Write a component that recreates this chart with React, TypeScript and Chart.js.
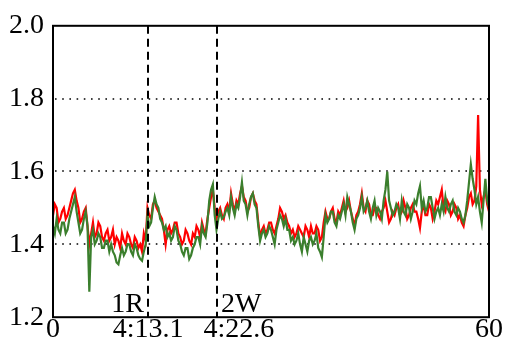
import React, { useEffect, useRef } from "react";
import { Chart, registerables } from "chart.js";

Chart.register(...registerables);

const STEP = 0.25;

const RED = [
  1.48, 1.51, 1.5, 1.46, 1.47, 1.49, 1.5, 1.47, 1.48, 1.5, 1.52, 1.54, 1.55, 1.52, 1.5, 1.46, 1.47, 1.49, 1.5, 1.45,
  1.4, 1.43, 1.46, 1.42, 1.43, 1.46, 1.45, 1.42, 1.41, 1.43, 1.44, 1.41, 1.42, 1.44, 1.4, 1.42, 1.41, 1.39, 1.43, 1.41,
  1.4, 1.43, 1.42, 1.4, 1.39, 1.42, 1.41, 1.39, 1.4, 1.38, 1.43, 1.41, 1.5, 1.48, 1.47, 1.51, 1.52, 1.5, 1.49, 1.48,
  1.47, 1.44, 1.4, 1.44, 1.45, 1.43, 1.44, 1.46, 1.46, 1.43, 1.42, 1.4, 1.41, 1.44, 1.43, 1.41, 1.4, 1.43, 1.42, 1.45,
  1.44, 1.42, 1.46, 1.44, 1.43, 1.47, 1.5, 1.53, 1.55, 1.5, 1.47, 1.49, 1.5, 1.48, 1.47, 1.5, 1.51, 1.49, 1.54, 1.51,
  1.49, 1.52, 1.51, 1.54, 1.56, 1.53, 1.52, 1.49, 1.5, 1.53, 1.54, 1.52, 1.51, 1.46, 1.42, 1.44, 1.45, 1.43, 1.44, 1.46,
  1.46, 1.44, 1.43, 1.45, 1.47, 1.5, 1.49, 1.47, 1.48, 1.46, 1.45, 1.43, 1.44, 1.42, 1.43, 1.45, 1.44, 1.43, 1.42, 1.45,
  1.44, 1.42, 1.45, 1.43, 1.43, 1.45, 1.44, 1.41, 1.42, 1.46, 1.49, 1.47, 1.47, 1.49, 1.5, 1.47, 1.46, 1.49, 1.48, 1.5,
  1.52, 1.49, 1.5, 1.52, 1.49, 1.47, 1.45, 1.48, 1.49, 1.51, 1.54, 1.5, 1.49, 1.52, 1.51, 1.48, 1.48, 1.5, 1.5, 1.48,
  1.47, 1.49, 1.5, 1.52, 1.49, 1.46, 1.47, 1.49, 1.48, 1.5, 1.51, 1.48, 1.49, 1.52, 1.5, 1.47, 1.48, 1.5, 1.51, 1.49,
  1.49, 1.47, 1.445, 1.49, 1.51, 1.48, 1.48, 1.51, 1.5, 1.47, 1.49, 1.52, 1.51, 1.53, 1.55, 1.5, 1.49, 1.52, 1.51, 1.48,
  1.49, 1.51, 1.5, 1.47, 1.48, 1.46, 1.45, 1.48, 1.5, 1.53, 1.54, 1.51, 1.52, 1.56, 1.755, 1.55, 1.51, 1.53, 1.55, 1.51,
  1.49,
];

const GREEN = [
  1.45, 1.43, 1.47, 1.44, 1.43, 1.46, 1.46, 1.43, 1.44, 1.47, 1.49, 1.51, 1.53, 1.49, 1.46, 1.43, 1.44, 1.47, 1.49, 1.45,
  1.27, 1.42, 1.44, 1.4, 1.41, 1.43, 1.42, 1.39, 1.39, 1.41, 1.41, 1.38, 1.4, 1.38, 1.37, 1.35, 1.345, 1.37, 1.39, 1.37,
  1.38, 1.4, 1.4, 1.38, 1.37, 1.4, 1.39, 1.37, 1.36, 1.355, 1.38, 1.4, 1.48, 1.45, 1.46, 1.5, 1.53, 1.51, 1.5, 1.47,
  1.46, 1.44, 1.45, 1.42, 1.43, 1.41, 1.42, 1.45, 1.44, 1.41, 1.4, 1.38, 1.37, 1.39, 1.39, 1.36, 1.37, 1.39, 1.4, 1.42,
  1.42, 1.4, 1.45, 1.43, 1.42, 1.46, 1.52, 1.55, 1.565, 1.48, 1.44, 1.47, 1.49, 1.47, 1.475, 1.49, 1.5, 1.48, 1.53, 1.5,
  1.48, 1.51, 1.5, 1.53, 1.57, 1.52, 1.51, 1.48, 1.51, 1.53, 1.54, 1.51, 1.5, 1.45, 1.41, 1.43, 1.44, 1.42, 1.43, 1.45,
  1.44, 1.42, 1.4, 1.44, 1.46, 1.48, 1.47, 1.45, 1.47, 1.44, 1.44, 1.41, 1.42, 1.4, 1.41, 1.43, 1.4, 1.38, 1.42, 1.4,
  1.38, 1.41, 1.42, 1.4, 1.41, 1.43, 1.39, 1.38, 1.365, 1.42, 1.48, 1.46, 1.47, 1.49, 1.49, 1.46, 1.45, 1.48, 1.47, 1.49,
  1.51, 1.48, 1.53, 1.51, 1.49, 1.46, 1.44, 1.47, 1.48, 1.5, 1.53, 1.49, 1.5, 1.52, 1.49, 1.47, 1.5, 1.52, 1.48, 1.5,
  1.49, 1.47, 1.52, 1.55, 1.6, 1.52, 1.5, 1.48, 1.49, 1.51, 1.5, 1.47, 1.52, 1.49, 1.48, 1.51, 1.5, 1.47, 1.49, 1.52,
  1.51, 1.54, 1.56, 1.5, 1.52, 1.49, 1.5, 1.53, 1.53, 1.5, 1.47, 1.49, 1.5, 1.48, 1.51, 1.49, 1.53, 1.5, 1.49, 1.51,
  1.52, 1.49, 1.48, 1.5, 1.49, 1.47, 1.46, 1.48, 1.52, 1.57, 1.62, 1.58, 1.55, 1.51, 1.53, 1.49, 1.46, 1.52, 1.58, 1.52,
  1.5,
];

const Y_TICKS = [1.2, 1.4, 1.6, 1.8, 2.0];
const GRID_Y = [1.4, 1.6, 1.8];
const X_TICK_VALUES = [0, 13.1, 22.6, 60];
const X_TICK_LABELS = ["0", "4:13.1", "4:22.6", "60"];
const MARKERS = [13.1, 22.6];
const MARKER_LABELS = ["1R", "2W"];

const FONT_FAMILY = "'Liberation Serif', 'DejaVu Serif', serif";
const FONT_SIZE = 28;

export default function App() {
  const ref = useRef<HTMLCanvasElement>(null);

  useEffect(() => {
    if (!ref.current) return;
    const toPoints = (arr: number[]) => arr.map((v, i) => ({ x: i * STEP, y: v }));

    const overlay = {
      id: "overlay",
      beforeDatasetsDraw(chart: any) {
        const { ctx, chartArea: a, scales } = chart;
        const y = scales.y;
        ctx.save();
        ctx.strokeStyle = "#000";
        ctx.lineWidth = 1.6;
        ctx.setLineDash([1.6, 5.6]);
        GRID_Y.forEach((v) => {
          const py = Math.round(y.getPixelForValue(v));
          ctx.beginPath();
          ctx.moveTo(a.left + 2, py);
          ctx.lineTo(a.right, py);
          ctx.stroke();
        });
        ctx.restore();
      },
      afterDatasetsDraw(chart: any) {
        const { ctx, chartArea: a, scales } = chart;
        const x = scales.x;
        ctx.save();
        ctx.strokeStyle = "#000";
        ctx.fillStyle = "#000";
        ctx.font = `${FONT_SIZE}px ${FONT_FAMILY}`;
        ctx.lineWidth = 2;
        ctx.setLineDash([8, 5]);
        MARKERS.forEach((m, i) => {
          const px = Math.round(x.getPixelForValue(m));
          ctx.beginPath();
          ctx.moveTo(px, a.top);
          ctx.lineTo(px, a.bottom);
          ctx.stroke();
          ctx.textBaseline = "alphabetic";
          if (i === 0) {
            ctx.textAlign = "right";
            ctx.fillText(MARKER_LABELS[i], px - 4, a.bottom - 5);
          } else {
            ctx.textAlign = "left";
            ctx.fillText(MARKER_LABELS[i], px + 4, a.bottom - 5);
          }
        });
        ctx.setLineDash([]);
        ctx.lineWidth = 2;
        ctx.strokeRect(a.left, a.top, a.right - a.left, a.bottom - a.top);

        // x tick labels, shifted right only when they would collide
        ctx.textAlign = "center";
        ctx.textBaseline = "alphabetic";
        let prevRight = -Infinity;
        X_TICK_VALUES.forEach((v, i) => {
          const label = X_TICK_LABELS[i];
          const w = ctx.measureText(label).width;
          let cx = x.getPixelForValue(v);
          if (cx - w / 2 < prevRight + 20) cx = prevRight + 20 + w / 2;
          ctx.fillText(label, cx, a.bottom + 20);
          prevRight = cx + w / 2;
        });
        ctx.restore();
      },
    };

    const chart = new Chart(ref.current, {
      type: "line",
      data: {
        datasets: [
          {
            data: toPoints(GREEN),
            borderColor: "#3b7f2d",
            borderWidth: 2.2,
            pointRadius: 0,
            tension: 0,
            order: 1,
          },
          {
            data: toPoints(RED),
            borderColor: "#ff0000",
            borderWidth: 2.2,
            pointRadius: 0,
            tension: 0,
            order: 2,
          },
        ],
      },
      options: {
        animation: false,
        responsive: false,
        layout: { padding: { top: 23, right: 16, left: 0, bottom: 0 } },
        plugins: { legend: { display: false }, tooltip: { enabled: false } },
        scales: {
          x: {
            type: "linear",
            min: 0,
            max: 60,
            grid: { display: false, drawTicks: false },
            border: { display: false },
            ticks: { display: false },
            afterFit: (s: any) => {
              s.height = 25;
            },
          },
          y: {
            type: "linear",
            min: 1.2,
            max: 2.0,
            grid: { display: false, drawTicks: false },
            border: { display: false },
            afterBuildTicks: (s: any) => {
              s.ticks = Y_TICKS.map((v) => ({ value: v }));
            },
            afterFit: (s: any) => {
              s.width = 53;
            },
            ticks: {
              color: "#000",
              padding: 9,
              font: { family: FONT_FAMILY, size: FONT_SIZE },
              callback: (v: any) => Number(v).toFixed(1),
            },
          },
        },
      },
      plugins: [overlay],
    });
    return () => chart.destroy();
  }, []);

  return (
    <div style={{ position: "absolute", left: 0, top: 0, width: 505, height: 343, background: "#fff" }}>
      <canvas ref={ref} width={505} height={343} />
    </div>
  );
}
